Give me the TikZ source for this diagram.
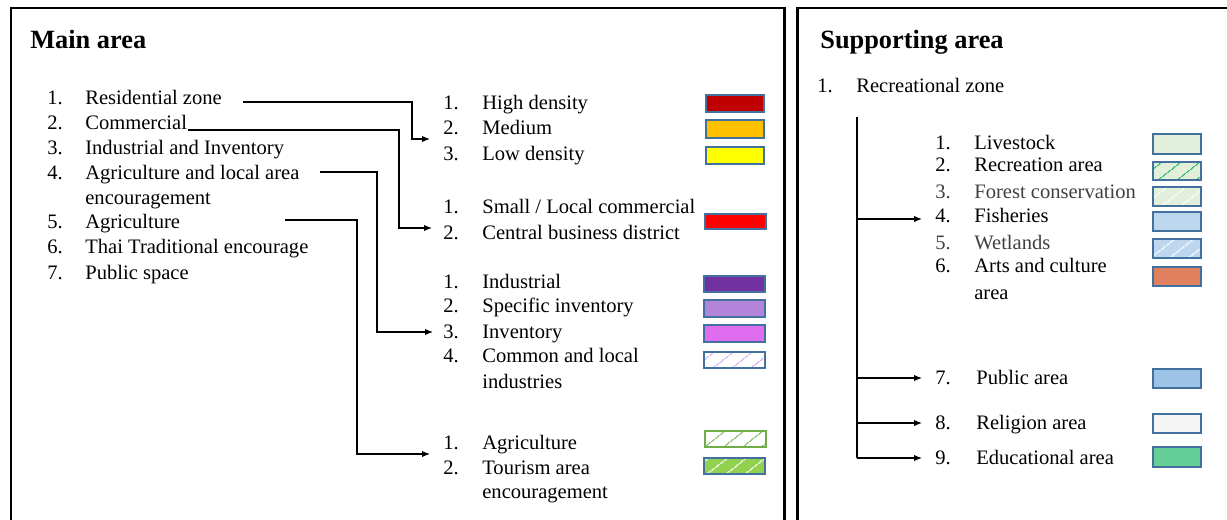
\documentclass[tikz,border=0pt]{standalone}
\usepackage{fontspec}
\setmainfont{Liberation Serif}
\usepackage{tikz}
\usetikzlibrary{arrows.meta,patterns.meta}

\definecolor{edge}{HTML}{41719C}
\definecolor{highden}{HTML}{C00000}
\definecolor{medden}{HTML}{FFC000}
\definecolor{lowden}{HTML}{FFFF00}
\definecolor{commred}{HTML}{FF0000}
\definecolor{indpurple}{HTML}{7030A0}
\definecolor{specinv}{HTML}{B385DA}
\definecolor{invpink}{HTML}{DF6DF0}
\definecolor{locind}{HTML}{C99CF0}
\definecolor{agrigreen}{HTML}{70AD47}
\definecolor{tourgreen}{HTML}{92D050}
\definecolor{paleleaf}{HTML}{E2EFDA}
\definecolor{recgreen}{HTML}{00B050}
\definecolor{paleblue}{HTML}{BDD7EE}
\definecolor{artsorange}{HTML}{E0805F}
\definecolor{pubblue}{HTML}{9DC3E6}
\definecolor{relwhite}{HTML}{F5F5F5}
\definecolor{edugreen}{HTML}{66CF97}
\definecolor{softtext}{HTML}{404040}

\begin{document}
\begin{tikzpicture}[x=0.02cm, y=-0.02cm,
        txt/.style={anchor=base west, inner sep=0pt, font=\fontsize{11.7}{14}\selectfont},
        title/.style={anchor=base west, inner sep=0pt, font=\fontsize{15}{18}\selectfont\bfseries},
        frame/.style={line width=1.7pt},
        link/.style={line width=0.7pt, -{Latex[length=4.5pt,width=3.6pt]}},
        swatch/.style={draw=edge, line width=0.7pt},
        hatch/.style={preaction={fill=#1}},
        lines/.style={postaction={pattern={Lines[angle=38,distance=6.5pt,line width=0.5pt]}, pattern color=#1}}]
        \useasboundingbox (0,0) rectangle (1227,520);
        \clip (0,0) rectangle (1227,520);

        % Coordinates
        \coordinate (R0) at (243,102);
        \coordinate (R1) at (412,102);
        \coordinate (R2) at (412,139);
        \coordinate (R3) at (430,139);
        \coordinate (C0) at (188,130);
        \coordinate (C1) at (399,130);
        \coordinate (C2) at (399,228);
        \coordinate (C3) at (432,228);
        \coordinate (A0) at (320,172);
        \coordinate (A1) at (377,172);
        \coordinate (A2) at (377,332);
        \coordinate (A3) at (433,332);
        \coordinate (G0) at (285,220);
        \coordinate (G1) at (357,220);
        \coordinate (G2) at (357,454);
        \coordinate (G3) at (430,454);
        \coordinate (V0) at (857,117);
        \coordinate (V1) at (857,219);
        \coordinate (V2) at (857,378);
        \coordinate (V3) at (857,423);
        \coordinate (V4) at (857,458);
        \coordinate (F4) at (922,219);
        \coordinate (F7) at (922,378);
        \coordinate (F8) at (922,423);
        \coordinate (F9) at (922,458);

        % Frames
        \draw[frame] (11,530) -- (11,8) -- (784,8) -- (784,530);
        \draw[frame] (797,530) -- (797,8) -- (1240,8);

        % Main area
        \node[title] (maint) at (30,49) {Main area};
        \node[txt] (m1n) at (47,105) {1.};
        \node[txt] (m1) at (85,105) {Residential zone};
        \node[txt] (m2n) at (47,130) {2.};
        \node[txt] (m2) at (85,130) {Commercial};
        \node[txt] (m3n) at (47,155) {3.};
        \node[txt] (m3) at (85,155) {Industrial and Inventory};
        \node[txt] (m4n) at (47,180) {4.};
        \node[txt] (m4) at (85,180) {Agriculture and local area};
        \node[txt] (m4b) at (85,205) {encouragement};
        \node[txt] (m5n) at (47,229) {5.};
        \node[txt] (m5) at (85,229) {Agriculture};
        \node[txt] (m6n) at (47,254) {6.};
        \node[txt] (m6) at (85,254) {Thai Traditional encourage};
        \node[txt] (m7n) at (47,279) {7.};
        \node[txt] (m7) at (85,279) {Public space};

        \node[txt] (h1n) at (443,110) {1.};
        \node[txt] (h1) at (482,110) {High density};
        \node[txt] (h2n) at (443,135) {2.};
        \node[txt] (h2) at (482,135) {Medium};
        \node[txt] (h3n) at (443,161) {3.};
        \node[txt] (h3) at (482,161) {Low density};

        \node[txt] (k1n) at (443,214) {1.};
        \node[txt] (k1) at (482,214) {Small / Local commercial};
        \node[txt] (k2n) at (443,239) {2.};
        \node[txt] (k2) at (482,239) {Central business district};

        \node[txt] (i1n) at (443,288) {1.};
        \node[txt] (i1) at (482,288) {Industrial};
        \node[txt] (i2n) at (443,313) {2.};
        \node[txt] (i2) at (482,313) {Specific inventory};
        \node[txt] (i3n) at (443,338) {3.};
        \node[txt] (i3) at (482,338) {Inventory};
        \node[txt] (i4n) at (443,362) {4.};
        \node[txt] (i4) at (482,362) {Common and local};
        \node[txt] (i4b) at (482,388) {industries};

        \node[txt] (g1n) at (443,449) {1.};
        \node[txt] (g1) at (482,449) {Agriculture};
        \node[txt] (g2n) at (443,474) {2.};
        \node[txt] (g2) at (482,474) {Tourism area};
        \node[txt] (g2b) at (482,498) {encouragement};

        \draw[swatch, fill=highden] (706,95) rectangle (764,112);
        \draw[swatch, fill=medden] (706,120) rectangle (764,138);
        \draw[swatch, fill=lowden] (706,147) rectangle (764,164);
        \draw[swatch, fill=commred] (705,214) rectangle (766,229);
        \draw[swatch, fill=indpurple] (704,276) rectangle (765,292);
        \draw[swatch, fill=specinv] (704,300) rectangle (765,317);
        \draw[swatch, fill=invpink] (704,325) rectangle (765,342);
        \path[hatch=white, lines=locind] (704,352) rectangle (765,368);
        \draw[swatch] (704,352) rectangle (765,368);
        \path[hatch=white, lines=agrigreen] (705,431) rectangle (766,447);
        \draw[swatch, draw=agrigreen] (705,431) rectangle (766,447);
        \path[hatch=tourgreen, lines=white] (704,458) rectangle (765,474);
        \draw[swatch] (704,458) rectangle (765,474);

        \draw[link] (R0) -- (R1) -- (R2) -- (R3);
        \draw[link] (C0) -- (C1) -- (C2) -- (C3);
        \draw[link] (A0) -- (A1) -- (A2) -- (A3);
        \draw[link] (G0) -- (G1) -- (G2) -- (G3);

        % Supporting area
        \node[title] (supt) at (820,49) {Supporting area};
        \node[txt] (s1n) at (817,93) {1.};
        \node[txt] (s1) at (856,93) {Recreational zone};

        \node[txt] (z1n) at (935,150) {1.};
        \node[txt] (z1) at (974,150) {Livestock};
        \node[txt] (z2n) at (935,172) {2.};
        \node[txt] (z2) at (974,172) {Recreation area};
        \node[txt, text=softtext] (z3n) at (935,199) {3.};
        \node[txt, text=softtext] (z3) at (974,199) {Forest conservation};
        \node[txt] (z4n) at (935,223) {4.};
        \node[txt] (z4) at (974,223) {Fisheries};
        \node[txt, text=softtext] (z5n) at (935,250) {5.};
        \node[txt, text=softtext] (z5) at (974,250) {Wetlands};
        \node[txt] (z6n) at (935,273) {6.};
        \node[txt] (z6) at (974,273) {Arts and culture};
        \node[txt] (z6b) at (974,299) {area};
        \node[txt] (z7n) at (935,384) {7.};
        \node[txt] (z7) at (976,384) {Public area};
        \node[txt] (z8n) at (935,429) {8.};
        \node[txt] (z8) at (976,429) {Religion area};
        \node[txt] (z9n) at (935,464) {9.};
        \node[txt] (z9) at (976,464) {Educational area};

        \draw[swatch, fill=paleleaf] (1153,134) rectangle (1201,154);
        \path[hatch=paleleaf, lines=recgreen] (1153,162) rectangle (1201,180);
        \draw[swatch] (1153,162) rectangle (1201,180);
        \path[hatch=paleleaf, lines=white] (1153,187) rectangle (1201,206);
        \draw[swatch] (1153,187) rectangle (1201,206);
        \draw[swatch, fill=paleblue] (1153,212) rectangle (1201,231);
        \path[hatch=paleblue, lines=white] (1153,239) rectangle (1201,258);
        \draw[swatch] (1153,239) rectangle (1201,258);
        \draw[swatch, fill=artsorange] (1153,267) rectangle (1201,286);
        \draw[swatch, fill=pubblue] (1153,369) rectangle (1201,388);
        \draw[swatch, fill=relwhite] (1153,414) rectangle (1201,433);
        \draw[swatch, fill=edugreen] (1153,447) rectangle (1201,467);

        \draw[line width=1.1pt] (V0) -- (V4);
        \draw[link] (V1) -- (F4);
        \draw[link] (V2) -- (F7);
        \draw[link] (V3) -- (F8);
        \draw[link] (V4) -- (F9);
    \end{tikzpicture}
\end{document}
